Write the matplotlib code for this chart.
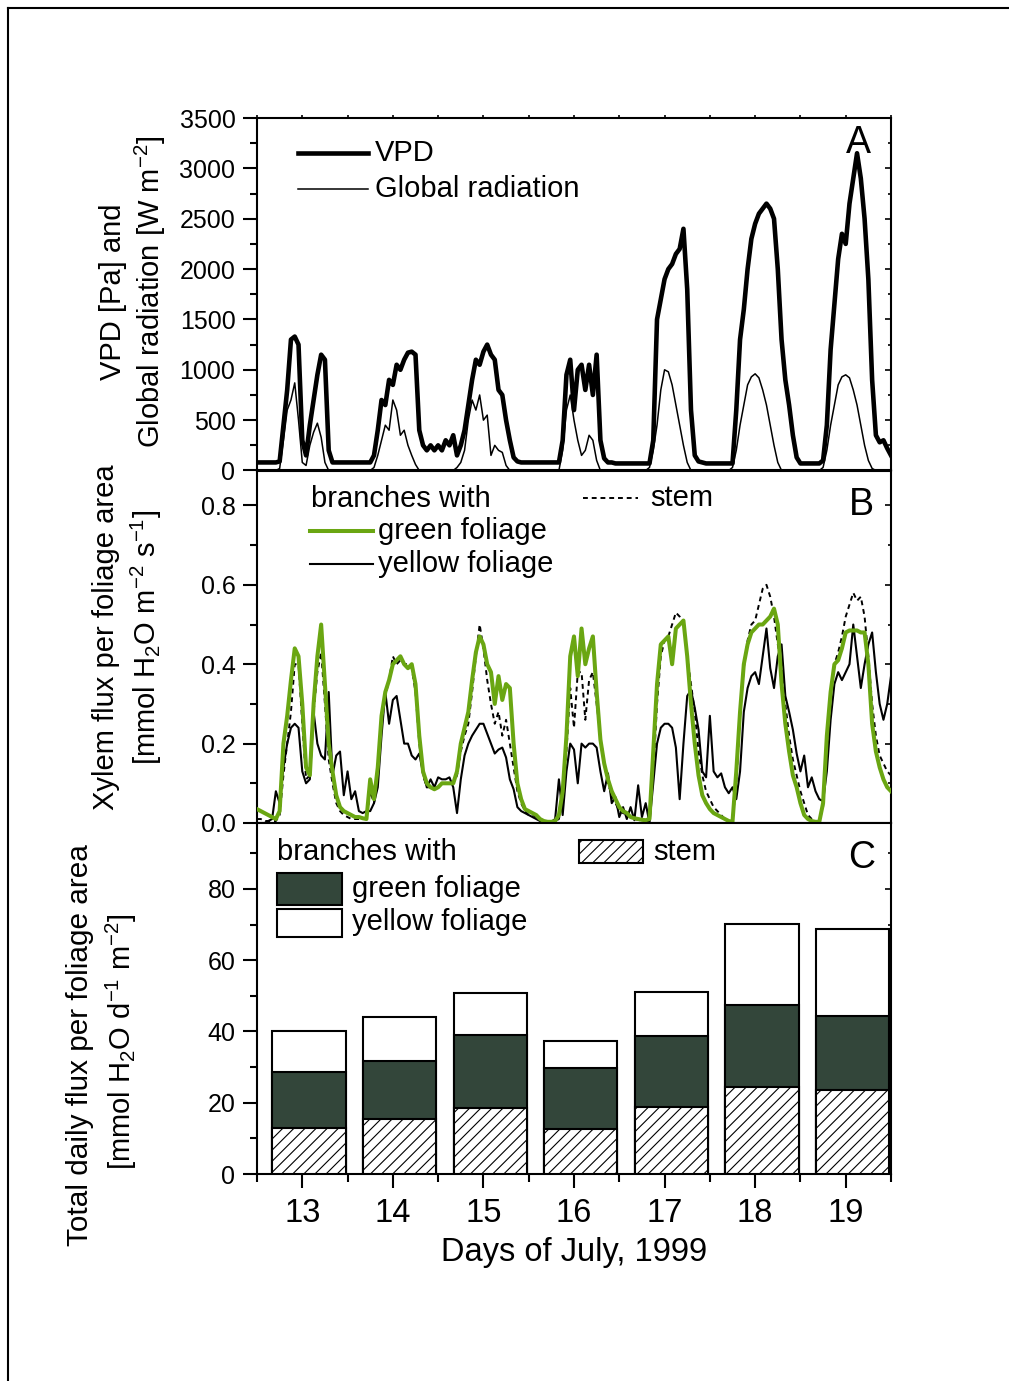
import numpy as np
import matplotlib
matplotlib.use("Agg")
import matplotlib.pyplot as plt
from matplotlib.ticker import MultipleLocator, FormatStrFormatter
from matplotlib.lines import Line2D
from matplotlib.patches import Rectangle

plt.rcParams['font.family'] = ['Liberation Sans', 'DejaVu Sans']
plt.rcParams['mathtext.fontset'] = 'custom'
plt.rcParams['mathtext.rm'] = 'Liberation Sans'
plt.rcParams['mathtext.it'] = 'Liberation Sans:italic'
plt.rcParams['mathtext.default'] = 'regular'
plt.rcParams['hatch.linewidth'] = 0.8

# ---------------------------------------------------------------------------
# Hourly records, 13 July 00:00 to 20 July 00:00 (one row per day)
# ---------------------------------------------------------------------------
vpd = [  # Pa
    80, 80, 80, 80, 80, 80, 90, 450, 800, 1300, 1330, 1250, 300, 150, 450, 700, 950, 1150, 1100, 200, 80, 80, 80, 80,
    80, 80, 80, 80, 80, 80, 80, 150, 400, 700, 650, 900, 850, 1050, 1000, 1100, 1170, 1180, 1150, 400, 250, 200, 250, 200,
    250, 200, 300, 250, 350, 150, 250, 400, 650, 900, 1100, 1050, 1180, 1250, 1150, 1100, 800, 750, 500, 300, 130, 90, 80, 80,
    80, 80, 80, 80, 80, 80, 80, 80, 80, 300, 950, 1100, 600, 1000, 1050, 800, 1050, 750, 1150, 300, 120, 80, 80, 70,
    70, 70, 70, 70, 70, 70, 70, 70, 70, 300, 1500, 1700, 1900, 2000, 2050, 2150, 2200, 2400, 1800, 600, 150, 90, 80, 70,
    70, 70, 70, 70, 70, 70, 70, 600, 1300, 1600, 2000, 2300, 2450, 2550, 2600, 2650, 2600, 2500, 2000, 1300, 900, 650, 350, 130,
    70, 70, 70, 70, 70, 70, 100, 450, 1200, 1650, 2100, 2350, 2250, 2650, 2900, 3150, 2900, 2500, 1900, 900, 350, 280, 300, 220,
    150,
]

radiation = [  # W m-2
    0, 0, 0, 0, 0, 0, 20, 300, 600, 700, 870, 500, 80, 50, 250, 380, 470, 330, 80, 0, 0, 0, 0, 0,
    0, 0, 0, 0, 0, 0, 0, 30, 150, 300, 450, 400, 700, 600, 350, 400, 250, 150, 60, 0, 0, 0, 0, 0,
    0, 0, 0, 0, 0, 30, 80, 200, 500, 700, 600, 750, 500, 550, 150, 250, 200, 180, 50, 0, 0, 0, 0, 0,
    0, 0, 0, 0, 0, 0, 0, 0, 0, 200, 600, 750, 500, 300, 150, 200, 350, 300, 100, 0, 0, 0, 0, 0,
    0, 0, 0, 0, 0, 0, 0, 0, 30, 200, 450, 800, 1000, 980, 850, 650, 450, 250, 80, 0, 0, 0, 0, 0,
    0, 0, 0, 0, 0, 0, 30, 200, 450, 650, 850, 930, 960, 920, 800, 650, 450, 250, 80, 0, 0, 0, 0, 0,
    0, 0, 0, 0, 0, 0, 30, 200, 450, 650, 850, 930, 950, 920, 800, 650, 450, 250, 100, 20, 0, 0, 0, 0,
    0,
]

flux_green = [  # mmol H2O m-2 s-1, branches with green foliage
    0.035, 0.03, 0.025, 0.02, 0.015, 0.01, 0.03, 0.20, 0.27, 0.36, 0.44, 0.42, 0.30, 0.14, 0.12, 0.30, 0.42, 0.50, 0.35, 0.20, 0.13, 0.07, 0.04, 0.03,
    0.025, 0.02, 0.015, 0.015, 0.012, 0.01, 0.11, 0.06, 0.14, 0.27, 0.33, 0.36, 0.40, 0.41, 0.42, 0.40, 0.39, 0.40, 0.35, 0.22, 0.13, 0.10, 0.09, 0.085,
    0.09, 0.10, 0.10, 0.10, 0.10, 0.13, 0.20, 0.24, 0.28, 0.36, 0.43, 0.47, 0.45, 0.40, 0.38, 0.30, 0.37, 0.31, 0.35, 0.34, 0.20, 0.10, 0.06, 0.035,
    0.03, 0.025, 0.02, 0.01, 0.005, 0.003, 0.003, 0.005, 0.02, 0.08, 0.22, 0.42, 0.47, 0.37, 0.49, 0.40, 0.44, 0.47, 0.33, 0.21, 0.15, 0.11, 0.08, 0.06,
    0.04, 0.03, 0.025, 0.015, 0.012, 0.01, 0.008, 0.007, 0.01, 0.18, 0.35, 0.45, 0.46, 0.47, 0.40, 0.49, 0.50, 0.51, 0.42, 0.30, 0.20, 0.12, 0.07, 0.05,
    0.035, 0.025, 0.02, 0.015, 0.01, 0.005, 0.003, 0.13, 0.28, 0.40, 0.45, 0.48, 0.49, 0.50, 0.50, 0.51, 0.52, 0.54, 0.50, 0.35, 0.25, 0.18, 0.12, 0.09,
    0.05, 0.02, 0.01, 0.005, 0.003, 0.003, 0.05, 0.22, 0.33, 0.40, 0.41, 0.44, 0.48, 0.485, 0.485, 0.485, 0.48, 0.48, 0.40, 0.25, 0.18, 0.14, 0.11, 0.09,
    0.08,
]

flux_yellow = [  # mmol H2O m-2 s-1, branches with yellow foliage
    0.0, 0.0, 0.0, 0.005, 0.01, 0.08, 0.05, 0.14, 0.20, 0.24, 0.25, 0.24, 0.13, 0.10, 0.11, 0.28, 0.20, 0.17, 0.16, 0.33, 0.12, 0.17, 0.18, 0.07,
    0.13, 0.06, 0.08, 0.03, 0.025, 0.03, 0.03, 0.05, 0.09, 0.22, 0.33, 0.25, 0.31, 0.32, 0.26, 0.20, 0.20, 0.17, 0.16, 0.175, 0.125, 0.09, 0.11, 0.09,
    0.115, 0.11, 0.11, 0.115, 0.09, 0.025, 0.11, 0.17, 0.20, 0.22, 0.235, 0.25, 0.25, 0.225, 0.20, 0.175, 0.185, 0.19, 0.165, 0.11, 0.085, 0.04, 0.03, 0.025,
    0.02, 0.015, 0.01, 0.005, 0.0, 0.0, 0.003, 0.01, 0.11, 0.02, 0.13, 0.20, 0.185, 0.10, 0.20, 0.19, 0.20, 0.20, 0.19, 0.13, 0.08, 0.125, 0.05, 0.065,
    0.015, 0.04, 0.01, 0.04, 0.007, 0.095, 0.015, 0.05, 0.0, 0.10, 0.20, 0.24, 0.25, 0.25, 0.24, 0.19, 0.06, 0.20, 0.32, 0.335, 0.29, 0.235, 0.13, 0.115,
    0.27, 0.13, 0.115, 0.125, 0.09, 0.075, 0.09, 0.06, 0.13, 0.28, 0.34, 0.37, 0.38, 0.35, 0.42, 0.49, 0.39, 0.34, 0.42, 0.45, 0.32, 0.28, 0.235, 0.175,
    0.13, 0.17, 0.09, 0.115, 0.08, 0.06, 0.055, 0.13, 0.26, 0.35, 0.38, 0.36, 0.38, 0.40, 0.50, 0.42, 0.34, 0.40, 0.45, 0.48, 0.38, 0.30, 0.26, 0.30,
    0.37,
]

flux_stem = [  # mmol H2O m-2 s-1, stem
    0.01, 0.01, 0.005, 0.005, 0.005, 0.005, 0.02, 0.12, 0.20, 0.28, 0.40, 0.40, 0.25, 0.11, 0.12, 0.28, 0.38, 0.43, 0.30, 0.16, 0.10, 0.05, 0.03, 0.02,
    0.015, 0.01, 0.01, 0.01, 0.01, 0.01, 0.08, 0.05, 0.12, 0.25, 0.32, 0.36, 0.42, 0.40, 0.41, 0.40, 0.40, 0.39, 0.33, 0.20, 0.12, 0.09, 0.09, 0.09,
    0.09, 0.10, 0.10, 0.10, 0.10, 0.12, 0.18, 0.22, 0.25, 0.33, 0.42, 0.50, 0.44, 0.36, 0.30, 0.25, 0.28, 0.22, 0.26, 0.20, 0.14, 0.08, 0.05, 0.03,
    0.02, 0.02, 0.015, 0.01, 0.005, 0.005, 0.005, 0.005, 0.01, 0.06, 0.18, 0.34, 0.24, 0.38, 0.38, 0.26, 0.36, 0.38, 0.30, 0.22, 0.15, 0.10, 0.07, 0.05,
    0.03, 0.025, 0.02, 0.015, 0.01, 0.008, 0.006, 0.005, 0.005, 0.12, 0.30, 0.42, 0.46, 0.47, 0.50, 0.53, 0.52, 0.50, 0.42, 0.35, 0.28, 0.18, 0.12, 0.08,
    0.06, 0.04, 0.03, 0.02, 0.01, 0.005, 0.005, 0.10, 0.27, 0.39, 0.46, 0.50, 0.51, 0.55, 0.59, 0.60, 0.57, 0.52, 0.45, 0.40, 0.30, 0.22, 0.16, 0.12,
    0.08, 0.05, 0.02, 0.01, 0.005, 0.005, 0.04, 0.20, 0.33, 0.40, 0.43, 0.47, 0.52, 0.55, 0.58, 0.56, 0.57, 0.52, 0.42, 0.30, 0.22, 0.17, 0.15, 0.13,
    0.12,
]

# Daily totals (mmol H2O d-1 m-2)
days = [13, 14, 15, 16, 17, 18, 19]
daily_yellow = [40.1, 44.1, 50.9, 37.2, 51.0, 70.1, 68.7]
daily_green = [28.7, 31.8, 39.1, 29.7, 38.6, 47.4, 44.4]
daily_stem = [12.8, 15.5, 18.5, 12.5, 18.8, 24.3, 23.5]

# ---------------------------------------------------------------------------
GREEN_LINE = '#6aa612'
DARK_GREEN = '#33463a'
FS_TICK = 18
FS_TEXT = 21

t = 12.5 + np.arange(len(vpd)) / 24.0

W, H = 1009, 1381
fig = plt.figure(figsize=(W / 100, H / 100), dpi=100)

left, right = 257 / W, 891 / W
edges = [118, 470.5, 823, 1174]
axes = []
for i in range(3):
    top, bot = edges[i], edges[i + 1]
    ax = fig.add_axes([left, 1 - bot / H, right - left, (bot - top) / H])
    axes.append(ax)
axA, axB, axC = axes

for ax in axes:
    for sp in ax.spines.values():
        sp.set_linewidth(1.5)
    ax.set_xlim(12.5, 19.5)
    ax.xaxis.set_major_locator(MultipleLocator(1))
    ax.xaxis.set_minor_locator(MultipleLocator(0.5))
    ax.tick_params(axis='y', which='major', direction='out', length=10, width=1.5,
                   labelsize=FS_TICK, pad=5.5, right=False)
    ax.tick_params(axis='y', which='minor', direction='out', length=5, width=1.5, right=False)
    ax.tick_params(axis='x', which='both', bottom=False, top=False, labelbottom=False)
    # short mirrored ticks on the right spine
    sec = ax.secondary_yaxis('right')
    sec.spines['right'].set_visible(False)
    sec.tick_params(which='major', direction='in', length=4, width=1.2, labelright=False)
    sec.tick_params(which='minor', direction='in', length=2.5, width=1.2)

# ---- Panel A ---------------------------------------------------------------
axA.set_ylim(0, 3500)
axA.yaxis.set_major_locator(MultipleLocator(500))
axA.yaxis.set_minor_locator(MultipleLocator(250))
axA.tick_params(axis='x', which='both', top=True, direction='out', length=2.5, width=1.2)
axA.plot(t, radiation, color='black', lw=1.1, zorder=3)
axA.plot(t, vpd, color='black', lw=3.3, zorder=4)
for sec_ax in axA.child_axes:
    sec_ax.yaxis.set_major_locator(MultipleLocator(500))
    sec_ax.yaxis.set_minor_locator(MultipleLocator(250))


def key_line(ax, x0, x1, y, tx, text, **style):
    ax.plot([x0, x1], [y, y], transform=ax.transAxes, clip_on=False, **style)
    ax.text(tx, y, text, transform=ax.transAxes, ha='left', va='center', fontsize=FS_TEXT)


key_line(axA, 0.065, 0.175, 0.900, 0.186, 'VPD', color='black', lw=3.3)
key_line(axA, 0.065, 0.175, 0.799, 0.186, 'Global radiation', color='black', lw=1.1)
axA.text(0.948, 0.929, 'A', transform=axA.transAxes, ha='center', va='center', fontsize=27)

# ---- Panel B ---------------------------------------------------------------
axB.set_ylim(0, 0.888)
axB.yaxis.set_major_locator(MultipleLocator(0.2))
axB.yaxis.set_minor_locator(MultipleLocator(0.1))
axB.yaxis.set_major_formatter(FormatStrFormatter('%.1f'))
axB.plot(t, flux_stem, color='black', lw=1.4, dashes=(2.5, 2.0), zorder=3)
axB.plot(t, flux_yellow, color='black', lw=1.5, zorder=4)
axB.plot(t, flux_green, color=GREEN_LINE, lw=2.9, zorder=5)
for sec_ax in axB.child_axes:
    sec_ax.yaxis.set_major_locator(MultipleLocator(0.2))
    sec_ax.yaxis.set_minor_locator(MultipleLocator(0.1))

axB.text(0.085, 0.919, 'branches with', transform=axB.transAxes, ha='left', va='center', fontsize=FS_TEXT)
key_line(axB, 0.084, 0.183, 0.828, 0.191, 'green foliage', color=GREEN_LINE, lw=2.9)
key_line(axB, 0.084, 0.183, 0.735, 0.191, 'yellow foliage', color='black', lw=1.5)
key_line(axB, 0.514, 0.601, 0.923, 0.621, 'stem', color='black', lw=1.4, dashes=(2.5, 2.0))
axB.text(0.954, 0.902, 'B', transform=axB.transAxes, ha='center', va='center', fontsize=27)

# ---- Panel C ---------------------------------------------------------------
axC.set_ylim(0, 98.5)
axC.yaxis.set_major_locator(MultipleLocator(20))
axC.yaxis.set_minor_locator(MultipleLocator(10))
for sec_ax in axC.child_axes:
    sec_ax.yaxis.set_major_locator(MultipleLocator(20))
    sec_ax.yaxis.set_minor_locator(MultipleLocator(10))
axC.tick_params(axis='x', which='major', bottom=True, direction='out', length=10, width=1.5,
                labelbottom=True, labelsize=23.5, pad=7)
axC.tick_params(axis='x', which='minor', bottom=True, direction='out', length=5.5, width=1.5)
axC.set_xticks(days)
axC.set_xticklabels([str(d) for d in days])

xb = np.array(days) + 0.075
bw = 0.81
axC.bar(xb, daily_yellow, width=bw, color='white', edgecolor='black', linewidth=1.5, zorder=2)
axC.bar(xb, daily_green, width=bw, color=DARK_GREEN, edgecolor='black', linewidth=1.5, zorder=3)
axC.bar(xb, daily_stem, width=bw, color='white', edgecolor='black', linewidth=1.5, hatch='///', zorder=4)


def key_box(ax, x, y, w, h, tx, ty, text, **style):
    ax.add_patch(Rectangle((x, y), w, h, transform=ax.transAxes, clip_on=False,
                           linewidth=1.5, edgecolor='black', **style))
    ax.text(tx, ty, text, transform=ax.transAxes, ha='left', va='center', fontsize=FS_TEXT)


axC.text(0.0315, 0.917, 'branches with', transform=axC.transAxes, ha='left', va='center', fontsize=FS_TEXT)
key_box(axC, 0.0315, 0.766, 0.1025, 0.091, 0.150, 0.812, 'green foliage', facecolor=DARK_GREEN)
key_box(axC, 0.0315, 0.675, 0.1025, 0.080, 0.150, 0.718, 'yellow foliage', facecolor='white')
key_box(axC, 0.508, 0.886, 0.101, 0.066, 0.625, 0.917, 'stem', facecolor='white', hatch='///')
axC.text(0.954, 0.900, 'C', transform=axC.transAxes, ha='center', va='center', fontsize=27)

# ---- Axis titles -----------------------------------------------------------
fig.text(113 / W, 1 - 292 / H, 'VPD [Pa] and', rotation=90, ha='center', va='center', fontsize=FS_TEXT)
fig.text(150 / W, 1 - 292 / H, 'Global radiation [W m$^{-2}$]', rotation=90, ha='center', va='center',
         fontsize=FS_TEXT)
fig.text(106 / W, 1 - 637 / H, 'Xylem flux per foliage area', rotation=90, ha='center', va='center',
         fontsize=FS_TEXT)
fig.text(146 / W, 1 - 637 / H, '[mmol H$_2$O m$^{-2}$ s$^{-1}$]', rotation=90, ha='center', va='center',
         fontsize=FS_TEXT)
fig.text(80 / W, 1 - 1045 / H, 'Total daily flux per foliage area', rotation=90, ha='center', va='center',
         fontsize=21.4)
fig.text(121 / W, 1 - 1042 / H, '[mmol H$_2$O d$^{-1}$ m$^{-2}$]', rotation=90, ha='center', va='center',
         fontsize=FS_TEXT)
fig.text(574 / W, 1 - 1253 / H, 'Days of July, 1999', ha='center', va='center', fontsize=23.5)

# page frame (top and left edges)
fig.add_artist(Line2D([8 / W, 1.0], [1 - 8 / H, 1 - 8 / H], transform=fig.transFigure, color='black', lw=1.5))
fig.add_artist(Line2D([8 / W, 8 / W], [0.0, 1 - 8 / H], transform=fig.transFigure, color='black', lw=1.5))

fig.savefig('out.png', dpi=100)
